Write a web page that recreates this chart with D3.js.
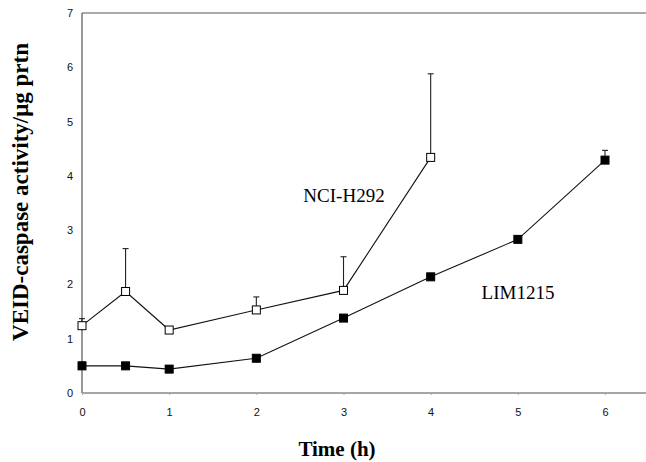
<!DOCTYPE html>
<html><head><meta charset="utf-8">
<script src="https://cdn.jsdelivr.net/npm/d3@7"></script>
<style>body{margin:0;background:#fff}svg{display:block}</style>
</head><body><svg id="c" width="646" height="462"></svg>
<script>
const nciTimes = [0, 0.5, 1, 2, 3, 4];
const nciValues = [1.24, 1.87, 1.16, 1.53, 1.89, 4.34];
const nciErrTop = [1.37, 2.66, null, 1.77, 2.51, 5.88];
const limTimes = [0, 0.5, 1, 2, 3, 4, 5, 6];
const limValues = [0.50, 0.50, 0.44, 0.64, 1.38, 2.14, 2.83, 4.29];
const limErrTop = [0.57, null, 0.50, null, null, 2.20, 2.89, 4.47];
const xTicks = [0, 1, 2, 3, 4, 5, 6];
const yTicks = [0, 1, 2, 3, 4, 5, 6, 7];

const svg = d3.select("#c");
const x = d3.scaleLinear().domain([0, 6.5]).range([82, 648.6]);
const y = d3.scaleLinear().domain([0, 7]).range([393, 13]);

// frame lines
svg.append("line").attr("x1", x(0)).attr("x2", 646).attr("y1", y(7)).attr("y2", y(7))
  .attr("stroke", "#555").attr("stroke-width", 1);
svg.append("line").attr("x1", x(0)).attr("x2", x(0)).attr("y1", y(7)).attr("y2", y(0))
  .attr("stroke", "#555").attr("stroke-width", 1.2);

// x axis
const xa = svg.append("g").attr("transform", `translate(0,${y(0)})`)
  .call(d3.axisBottom(x).tickValues(xTicks).tickSize(2).tickPadding(13).tickFormat(d3.format("d")));
xa.select(".domain").attr("stroke", "#888").attr("stroke-width", 1.5).attr("d", `M${x(0)},0H646`);
xa.selectAll(".tick line").attr("stroke", "#aaa");
xa.selectAll("text").attr("font-family", "Liberation Sans, Arial, sans-serif").attr("font-size", 11).attr("fill", "#111");

// y axis
const ya = svg.append("g").attr("transform", `translate(${x(0)},0)`)
  .call(d3.axisLeft(y).tickValues(yTicks).tickSize(0).tickPadding(9).tickFormat(d3.format("d")));
ya.select(".domain").remove();
ya.selectAll("text").attr("font-family", "Liberation Sans, Arial, sans-serif").attr("font-size", 11).attr("fill", "#111");

function drawSeries(ts, vs, errs, filled) {
  const pts = ts.map((t, i) => ({t, v: vs[i], e: errs[i]}));
  svg.append("path").datum(pts)
    .attr("d", d3.line().x(d => x(d.t)).y(d => y(d.v)))
    .attr("fill", "none").attr("stroke", "#111").attr("stroke-width", 1.1);
  const eb = svg.append("g").selectAll("g").data(pts.filter(d => d.e != null)).join("g");
  eb.append("line").attr("x1", d => x(d.t)).attr("x2", d => x(d.t))
    .attr("y1", d => y(d.v)).attr("y2", d => y(d.e)).attr("stroke", "#222").attr("stroke-width", 1.1);
  eb.append("line").attr("x1", d => x(d.t) - 3).attr("x2", d => x(d.t) + 3)
    .attr("y1", d => y(d.e)).attr("y2", d => y(d.e)).attr("stroke", "#222").attr("stroke-width", 1.1);
  const s = 8;
  svg.append("g").selectAll("rect").data(pts).join("rect")
    .attr("x", d => x(d.t) - s / 2).attr("y", d => y(d.v) - s / 2)
    .attr("width", s).attr("height", s)
    .attr("fill", filled ? "#000" : "#fff").attr("stroke", "#000").attr("stroke-width", 1);
}
drawSeries(nciTimes, nciValues, nciErrTop, false);
drawSeries(limTimes, limValues, limErrTop, true);

// series labels
svg.append("text").attr("x", 344).attr("y", 202).attr("text-anchor", "middle")
  .attr("font-family", "Liberation Serif, Times New Roman, serif").attr("font-size", 19).text("NCI-H292");
svg.append("text").attr("x", 518).attr("y", 299).attr("text-anchor", "middle")
  .attr("font-family", "Liberation Serif, Times New Roman, serif").attr("font-size", 19).text("LIM1215");

// axis titles
svg.append("text").attr("x", 337).attr("y", 456).attr("text-anchor", "middle")
  .attr("font-family", "Liberation Serif, Times New Roman, serif").attr("font-weight", "bold").attr("font-size", 21)
  .text("Time (h)");
svg.append("text").attr("transform", "translate(28,192) rotate(-90)").attr("text-anchor", "middle")
  .attr("font-family", "Liberation Serif, Times New Roman, serif").attr("font-weight", "bold").attr("font-size", 23)
  .text("VEID-caspase activity/μg prtn");
</script></body></html>
